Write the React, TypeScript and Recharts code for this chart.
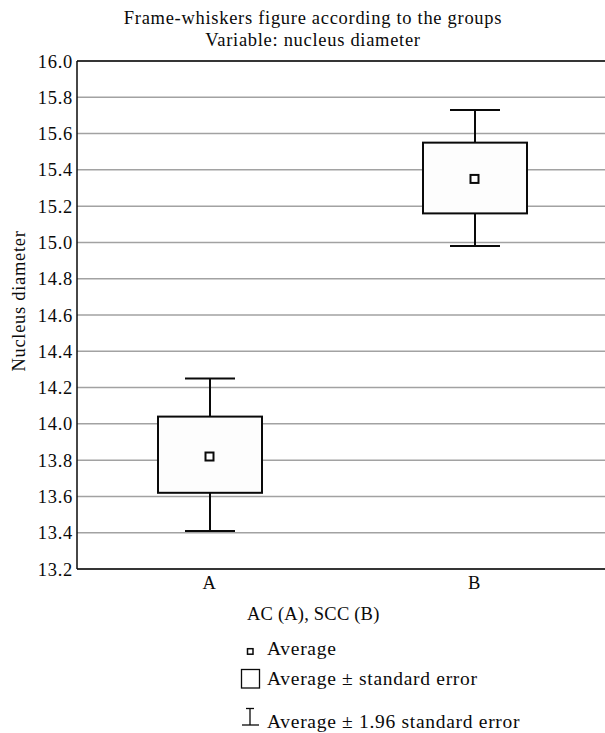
import React from 'react';
import { ComposedChart, Bar, Scatter, XAxis, YAxis, CartesianGrid } from 'recharts';

const categories = ['A', 'B'];
const averages = [13.82, 15.35];
const seLower = [13.62, 15.16];
const seUpper = [14.04, 15.55];
const ciLower = [13.41, 14.98];
const ciUpper = [14.25, 15.73];
const yTicks = [13.2, 13.4, 13.6, 13.8, 14.0, 14.2, 14.4, 14.6, 14.8, 15.0, 15.2, 15.4, 15.6, 15.8, 16.0];

const titleLines = ['Frame-whiskers figure according to the groups', 'Variable: nucleus diameter'];
const xTitle = 'AC (A), SCC (B)';
const yTitle = 'Nucleus diameter';
const legendLabels = ['Average', 'Average \u00b1 standard error', 'Average \u00b1 1.96 standard error'];

const data = categories.map((g, i) => ({
  group: g,
  mean: averages[i],
  box: [seLower[i], seUpper[i]],
  whisker: [ciLower[i], ciUpper[i]],
}));

const FONT = 'Liberation Serif';
const FS = 18.5;
const LS = 0.7;
const INK = '#0a0a0a';
const fontStyle = { fontFamily: FONT, fontSize: FS, letterSpacing: LS } as const;
const legendStyle = { fontFamily: FONT, fontSize: 19.5, letterSpacing: LS } as const;

const WhiskerShape = (props: any) => {
  const { x, y, width, height } = props;
  const top = Math.min(y, y + height);
  const bot = Math.max(y, y + height);
  const cx = x + width / 2;
  return (
    <g stroke={INK} strokeWidth={2} fill="none">
      <line x1={cx} y1={top} x2={cx} y2={bot} />
      <line x1={x} y1={top} x2={x + width} y2={top} />
      <line x1={x} y1={bot} x2={x + width} y2={bot} />
    </g>
  );
};

const BoxShape = (props: any) => {
  const { x, y, width, height } = props;
  const top = Math.min(y, y + height);
  const h = Math.abs(height);
  return <rect x={x} y={top} width={width} height={h} fill="#fdfdfd" stroke={INK} strokeWidth={2} />;
};

const MeanShape = (props: any) => {
  const { cx, cy } = props;
  return <rect x={cx - 4} y={cy - 4} width={8} height={8} fill="#fff" stroke={INK} strokeWidth={2} />;
};

const YLabel = (props: any) => {
  const vb = props.viewBox || { x: 0, y: 61, width: 77, height: 508 };
  const cx = vb.x + 25;
  const cy = vb.y + vb.height / 2 - 14;
  return (
    <text
      x={cx}
      y={cy}
      transform={`rotate(-90 ${cx} ${cy})`}
      textAnchor="middle"
      fill={INK}
      style={fontStyle}
    >
      {yTitle}
    </text>
  );
};

const tickProps = { fill: INK, fontSize: FS, fontFamily: FONT, style: fontStyle };

export default function App() {
  return (
    <div style={{ position: 'absolute', left: 0, top: 0, width: 605, height: 733, overflow: 'hidden', background: '#fff' }}>
      <ComposedChart
        width={615}
        height={733}
        data={data}
        margin={{ top: 61, right: 8, left: 0, bottom: 134 }}
      >
        <CartesianGrid xAxisId="main" yAxisId="main" horizontal vertical={false} stroke="#a2a2a2" strokeWidth={1.5} />
        <XAxis
          xAxisId="main"
          dataKey="group"
          type="category"
          height={30}
          interval={0}
          axisLine={{ stroke: INK, strokeWidth: 1.5 }}
          tickLine={false}
          tickSize={6}
          tickMargin={1}
          tick={tickProps}
        />
        <XAxis
          xAxisId="bt"
          dataKey="group"
          type="category"
          orientation="bottom"
          mirror
          interval={0}
          axisLine={false}
          tickLine={{ stroke: INK, strokeWidth: 1.5 }}
          tickSize={10}
          tick={false}
        />
        <XAxis
          xAxisId="top"
          dataKey="group"
          type="category"
          orientation="top"
          mirror
          interval={0}
          axisLine={{ stroke: INK, strokeWidth: 1.5 }}
          tickLine={{ stroke: INK, strokeWidth: 1.5 }}
          tickSize={10}
          tick={false}
        />
        <YAxis
          yAxisId="main"
          type="number"
          domain={[13.2, 16.0]}
          ticks={yTicks}
          interval={0}
          width={77}
          axisLine={{ stroke: INK, strokeWidth: 1.5 }}
          tickLine={false}
          tickSize={0}
          tickMargin={4}
          tickFormatter={(v: number) => v.toFixed(1)}
          tick={tickProps}
          label={{ content: YLabel }}
        />
        <YAxis
          yAxisId="m"
          type="number"
          orientation="left"
          mirror
          domain={[13.2, 16.0]}
          ticks={yTicks}
          interval={0}
          axisLine={false}
          tickLine={{ stroke: INK, strokeWidth: 1.5 }}
          tickSize={10}
          tick={false}
        />
        <YAxis
          yAxisId="r"
          type="number"
          orientation="right"
          mirror
          domain={[13.2, 16.0]}
          ticks={yTicks}
          interval={0}
          axisLine={{ stroke: INK, strokeWidth: 1.5 }}
          tickLine={{ stroke: INK, strokeWidth: 1.5 }}
          tickSize={10}
          tick={false}
        />
        <Bar xAxisId="bt" yAxisId="main" dataKey="whisker" barSize={50} shape={WhiskerShape} isAnimationActive={false} />
        <Bar xAxisId="main" yAxisId="main" dataKey="box" barSize={104} shape={BoxShape} isAnimationActive={false} />
        <Scatter xAxisId="top" yAxisId="m" dataKey="mean" shape={MeanShape} isAnimationActive={false} />
        <Scatter xAxisId="main" yAxisId="r" dataKey="mean" shape={() => <g />} isAnimationActive={false} />
      </ComposedChart>
      <svg
        width={605}
        height={733}
        style={{ position: 'absolute', left: 0, top: 0, pointerEvents: 'none' }}
      >
        <g fill={INK} style={fontStyle}>
          <text x={313} y={24} textAnchor="middle">{titleLines[0]}</text>
          <text x={313} y={46} textAnchor="middle">{titleLines[1]}</text>
          <text x={247} y={620} style={{ ...fontStyle, letterSpacing: 0.2 }}>{xTitle}</text>
        </g>
        <g fill={INK} style={legendStyle}>
          <text x={267} y={655}>{legendLabels[0]}</text>
          <text x={267} y={685}>{legendLabels[1]}</text>
          <text x={267} y={728}>{legendLabels[2]}</text>
        </g>
        <rect x={247.5} y={648.7} width={5.5} height={5.5} fill="#fff" stroke={INK} strokeWidth={1.5} />
        <rect x={241.5} y={669.5} width={18} height={18.5} fill="#fff" stroke={INK} strokeWidth={1.3} />
        <g stroke={INK} strokeWidth={1.3}>
          <line x1={246} y1={708.5} x2={254} y2={708.5} />
          <line x1={250} y1={708.5} x2={250} y2={725} />
          <line x1={242} y1={725} x2={259} y2={725} />
        </g>
      </svg>
    </div>
  );
}
